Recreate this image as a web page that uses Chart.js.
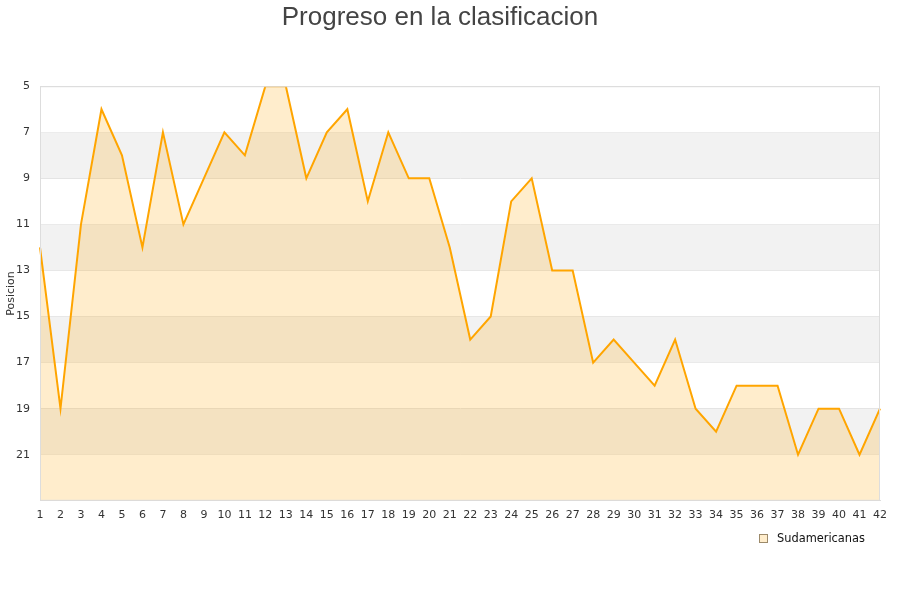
<!DOCTYPE html>
<html lang="es">
<head>
    <meta charset="UTF-8">
    <title>Progreso en la clasificacion</title>
    <script src="https://cdn.jsdelivr.net/npm/chart.js"></script>
    <style>
        body { margin: 0; background: #fff; }
        #wrap { width: 900px; height: 600px; }
    </style>
</head>
<body>
    <div id="wrap"><canvas id="chart" width="900" height="600"></canvas></div>

    <script>
        // Jornadas y posicion en cada una
        const jornadas = [];
        for (let j = 1; j <= 42; j++) jornadas.push(String(j));
        const posiciones = [12, 19, 11, 6, 8, 12, 7, 11, 9, 7, 8, 5, 5, 9, 7, 6, 10, 7, 9, 9, 12,
                            16, 15, 10, 9, 13, 13, 17, 16, 17, 18, 16, 19, 20, 18, 18, 18, 21, 19, 19, 21, 19];
        const serieNombre = 'Sudamericanas';
        const ejeMin = 5;
        const ejeMax = 23;
        const ejePaso = 2;

        const lineaColor = '#ffa500';
        const rellenoColor = 'rgba(255, 165, 0, 0.2)';

        // Bandas grises alternas entre ticks + borde del area
        const bandas = {
            id: 'bandas',
            beforeDatasetsDraw(chart) {
                const { ctx, chartArea, scales } = chart;
                const y = scales.y;
                const ticks = y.ticks.map(t => t.value);
                ctx.save();
                ctx.fillStyle = '#f2f2f2';
                for (let i = 1; i < ticks.length - 1; i += 2) {
                    const a = y.getPixelForValue(ticks[i]);
                    const b = y.getPixelForValue(ticks[i + 1]);
                    ctx.fillRect(chartArea.left, a, chartArea.right - chartArea.left, b - a);
                }
                ctx.restore();
            },
            afterDraw(chart) {
                const { ctx, chartArea } = chart;
                ctx.save();
                ctx.strokeStyle = '#dddddd';
                ctx.lineWidth = 1;
                ctx.strokeRect(chartArea.left + 0.5, chartArea.top + 0.5,
                    chartArea.right - chartArea.left - 1, chartArea.bottom - chartArea.top - 1);
                ctx.restore();
            }
        };

        // Leyenda abajo a la derecha
        const leyenda = {
            id: 'leyenda',
            afterDraw(chart) {
                const { ctx } = chart;
                const bx = 759, by = 534, s = 9;
                ctx.save();
                ctx.fillStyle = rellenoColor;
                ctx.fillRect(bx, by, s, s);
                ctx.strokeStyle = '#9c8a6a';
                ctx.lineWidth = 1;
                ctx.strokeRect(bx + 0.5, by + 0.5, s - 1, s - 1);
                ctx.fillStyle = '#111111';
                ctx.font = '11.4px "DejaVu Sans"';
                ctx.textBaseline = 'middle';
                ctx.textAlign = 'left';
                ctx.fillText(chart.data.datasets[0].label, bx + s + 9, by + s / 2 + 0.5);
                ctx.restore();
            }
        };

        const ctx = document.getElementById('chart').getContext('2d');
        new Chart(ctx, {
            type: 'line',
            data: {
                labels: jornadas,
                datasets: [{
                    label: serieNombre,
                    data: posiciones,
                    borderColor: lineaColor,
                    backgroundColor: rellenoColor,
                    borderWidth: 2,
                    pointRadius: 0,
                    pointHoverRadius: 0,
                    tension: 0,
                    fill: 'start'
                }]
            },
            plugins: [bandas, leyenda],
            options: {
                responsive: false,
                animation: false,
                layout: { padding: { left: 0, right: 20, top: 0, bottom: 70 } },
                plugins: {
                    title: {
                        display: true,
                        text: 'Progreso en la clasificacion',
                        color: '#444444',
                        font: { family: 'Liberation Sans', size: 26, weight: 'normal' },
                        padding: { top: 2, bottom: 53 }
                    },
                    legend: { display: false },
                    tooltip: { enabled: false }
                },
                scales: {
                    x: {
                        offset: false,
                        grid: { display: false, drawTicks: false },
                        border: { display: true, color: '#dddddd' },
                        ticks: {
                            color: '#333333',
                            font: { family: 'DejaVu Sans', size: 11 },
                            padding: 8,
                            maxRotation: 0,
                            autoSkip: false
                        }
                    },
                    y: {
                        reverse: true,
                        min: ejeMin,
                        max: ejeMax,
                        afterFit(scale) { scale.width = 40; },
                        grid: { color: '#dddddd', drawTicks: false },
                        border: { display: true, color: '#dddddd' },
                        title: {
                            display: true,
                            text: 'Posicion',
                            color: '#333333',
                            font: { family: 'DejaVu Sans', size: 11 },
                            padding: { top: 5, bottom: 0 }
                        },
                        ticks: {
                            stepSize: ejePaso,
                            color: '#333333',
                            font: { family: 'DejaVu Sans', size: 11 },
                            padding: 10,
                            callback: v => (v === ejeMax ? '' : v)
                        }
                    }
                }
            }
        });
    </script>
</body>
</html>
